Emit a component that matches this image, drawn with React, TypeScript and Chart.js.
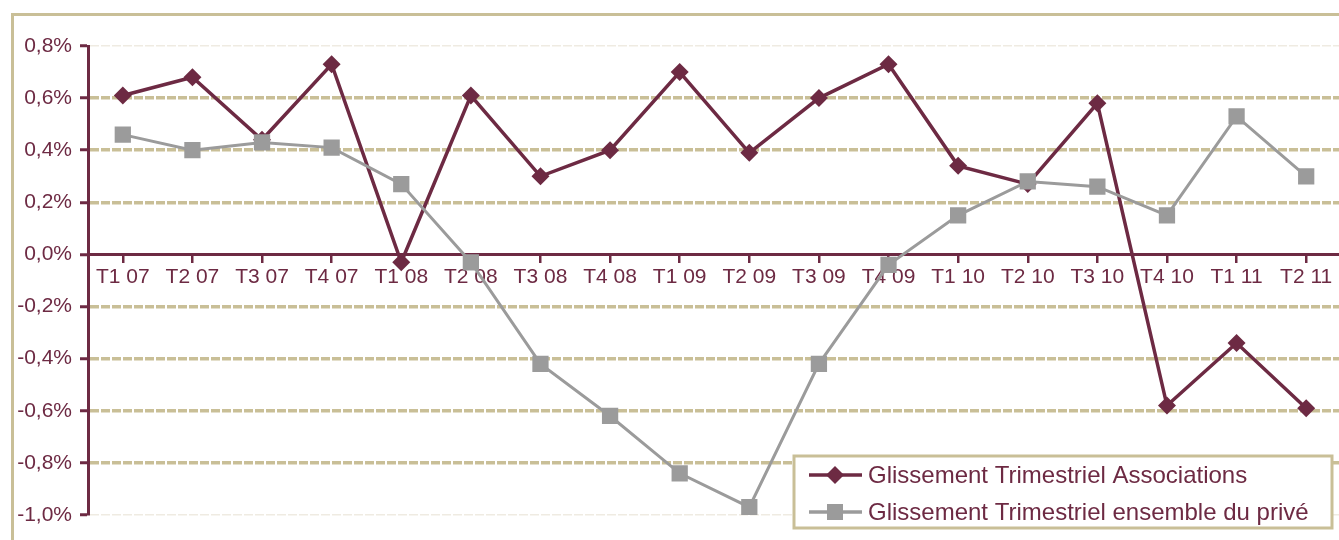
import React, { useEffect, useRef } from "react";
import { Chart, registerables } from "chart.js";

Chart.register(...registerables);

const categories = [
  "T1 07", "T2 07", "T3 07", "T4 07",
  "T1 08", "T2 08", "T3 08", "T4 08",
  "T1 09", "T2 09", "T3 09", "T4 09",
  "T1 10", "T2 10", "T3 10", "T4 10",
  "T1 11", "T2 11",
];

const associations = [
  0.61, 0.68, 0.44, 0.73,
  -0.03, 0.61, 0.3, 0.4,
  0.7, 0.39, 0.6, 0.73,
  0.34, 0.27, 0.58, -0.58,
  -0.34, -0.59,
];

const prive = [
  0.46, 0.4, 0.43, 0.41,
  0.27, -0.03, -0.42, -0.62,
  -0.84, -0.97, -0.42, -0.04,
  0.15, 0.28, 0.26, 0.15,
  0.53, 0.3,
];

const seriesLabels = [
  "Glissement Trimestriel Associations",
  "Glissement Trimestriel ensemble du privé",
];

const yMin = -1.0;
const yMax = 0.8;
const yStep = 0.2;

const MAROON = "#6D2A43";
const GRAY = "#9B9B9B";
const TAN = "#C9BF97";
const FAINT = "#EFEBE2";
const FONT = "'Liberation Sans', Arial, sans-serif";

const framePlugin = {
  id: "frame",
  beforeDraw(chart: any) {
    const ctx = chart.ctx;
    ctx.save();
    ctx.strokeStyle = TAN;
    ctx.lineWidth = 3;
    ctx.strokeRect(12.5, 14.5, 3000, 3000);
    ctx.restore();
  },
};

const legendPlugin = {
  id: "customLegend",
  afterDraw(chart: any) {
    const ctx = chart.ctx;
    const x = 794;
    const y = 456;
    const w = 538;
    const h = 72;
    ctx.save();
    ctx.fillStyle = "#FFFFFF";
    ctx.fillRect(x, y, w, h);
    ctx.strokeStyle = TAN;
    ctx.lineWidth = 3;
    ctx.strokeRect(x, y, w, h);
    const rows = [475, 512];
    chart.data.datasets.forEach((ds: any, i: number) => {
      const ry = rows[i];
      ctx.strokeStyle = ds.borderColor;
      ctx.lineWidth = 3.5;
      ctx.beginPath();
      ctx.moveTo(809, ry);
      ctx.lineTo(862, ry);
      ctx.stroke();
      ctx.fillStyle = ds.backgroundColor;
      if (i === 0) {
        ctx.beginPath();
        ctx.moveTo(835, ry - 9);
        ctx.lineTo(844, ry);
        ctx.lineTo(835, ry + 9);
        ctx.lineTo(826, ry);
        ctx.closePath();
        ctx.fill();
      } else {
        ctx.fillRect(827, ry - 8, 16, 16);
      }
      ctx.fillStyle = MAROON;
      ctx.font = `24px ${FONT}`;
      ctx.textBaseline = "middle";
      ctx.textAlign = "left";
      ctx.fillText(ds.label, 868, ry + 1);
    });
    ctx.restore();
  },
};

function tenth(v: number) {
  return Math.round(v * 10);
}

export default function App() {
  const canvasRef = useRef<HTMLCanvasElement | null>(null);

  useEffect(() => {
    document.body.style.margin = "0";
    document.body.style.overflow = "hidden";
    const canvas = canvasRef.current;
    if (!canvas) return;
    const chart = new Chart(canvas, {
      type: "line",
      data: {
        labels: categories,
        datasets: [
          {
            label: seriesLabels[0],
            data: associations,
            borderColor: MAROON,
            backgroundColor: MAROON,
            borderWidth: 3.5,
            pointStyle: "rectRot",
            pointRadius: 9,
            pointBorderWidth: 0,
            tension: 0,
            order: 1,
          },
          {
            label: seriesLabels[1],
            data: prive,
            borderColor: GRAY,
            backgroundColor: GRAY,
            borderWidth: 3,
            pointStyle: "rect",
            pointRadius: 11.5,
            pointBorderWidth: 0,
            tension: 0,
            order: 0,
          },
        ],
      },
      options: {
        animation: false,
        responsive: false,
        maintainAspectRatio: false,
        layout: { padding: { left: 0, top: 46, right: 19, bottom: 25 } },
        plugins: {
          legend: { display: false },
          tooltip: { enabled: false },
          title: { display: false },
        },
        scales: {
          x: {
            type: "category",
            offset: true,
            position: { y: 0 } as any,
            grid: {
              drawOnChartArea: false,
              drawTicks: true,
              tickLength: 7,
              color: MAROON,
              lineWidth: 2.5,
            },
            border: { display: true, color: MAROON, width: 3 },
            ticks: {
              color: MAROON,
              font: { family: FONT, size: 21 },
              padding: 3,
              maxRotation: 0,
              autoSkip: false,
            },
          },
          y: {
            type: "linear",
            position: "left",
            min: yMin,
            max: yMax,
            afterFit(scale: any) {
              scale.width = 88;
            },
            ticks: {
              stepSize: yStep,
              color: MAROON,
              font: { family: FONT, size: 21 },
              padding: 8,
              callback: (v: any) => (Number(v)).toFixed(1).replace(".", ",") + "%",
            },
            grid: {
              drawTicks: true,
              tickLength: 8,
              tickColor: MAROON,
              tickWidth: 3,
              color: (c: any) => {
                const t = tenth(c.tick ? c.tick.value : 0);
                if (t === 0) return "rgba(0,0,0,0)";
                if (t === 8 || t === -10) return FAINT;
                return TAN;
              },
              lineWidth: (c: any) => {
                const t = tenth(c.tick ? c.tick.value : 0);
                if (t === 8 || t === -10) return 1.5;
                return 3.5;
              },
            },
            border: { display: true, color: MAROON, width: 3, dash: [9, 2] },
          },
        },
      },
      plugins: [framePlugin, legendPlugin],
    });
    return () => chart.destroy();
  }, []);

  return (
    <div style={{ position: "relative", width: 1339, height: 540, overflow: "hidden", background: "#fff" }}>
      <canvas
        ref={canvasRef}
        width={1360}
        height={540}
        style={{ position: "absolute", left: 0, top: 0, width: 1360, height: 540 }}
      />
    </div>
  );
}
